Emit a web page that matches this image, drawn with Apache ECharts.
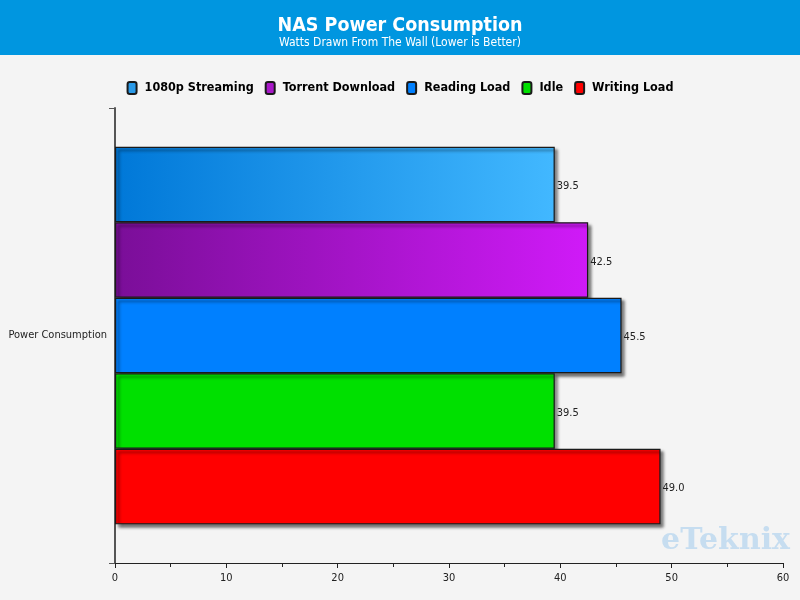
<!DOCTYPE html>
<html><head><meta charset="utf-8">
<script src="https://cdn.jsdelivr.net/npm/echarts@6/dist/echarts.min.js"></script>
<style>html,body{margin:0;padding:0;background:#f4f4f4}#c{width:800px;height:600px}</style>
</head><body><div id="c"></div>
<script>
const categories = ['Power Consumption'];
const seriesNames = ['1080p Streaming', 'Torrent Download', 'Reading Load', 'Idle', 'Writing Load'];
const values = [39.5, 42.5, 45.5, 39.5, 49.0];
const xTicks = { min: 0, max: 60, interval: 10 };

const fills = [
  new echarts.graphic.LinearGradient(0, 0, 1, 0, [{offset: 0, color: '#0078d8'}, {offset: 1, color: '#42b8ff'}]),
  new echarts.graphic.LinearGradient(0, 0, 1, 0, [{offset: 0, color: '#7a0e98'}, {offset: 1, color: '#d01af8'}]),
  '#0080ff', '#00e000', '#ff0000'
];
const legendColors = ['#2a9ae8', '#a818c8', '#0080ff', '#00e000', '#ff0000'];
const font = 'Tahoma, "DejaVu Sans Condensed", "DejaVu Sans", sans-serif';

const chart = echarts.init(document.getElementById('c'));
const series = seriesNames.map((n, i) => ({
  name: n,
  type: 'bar',
  data: [values[i]],
  barGap: '0%',
  barCategoryGap: '17%',
  itemStyle: {
    color: fills[i],
    borderColor: '#1a1a1a',
    borderWidth: 1.2,
    shadowColor: 'rgba(0,0,0,0.55)',
    shadowBlur: 3,
    shadowOffsetX: 3,
    shadowOffsetY: 3
  },
  label: {
    show: true, position: 'right', distance: 2, offset: [0, 2],
    formatter: p => p.value.toFixed(1),
    color: '#222', fontSize: 11, fontFamily: font
  }
}));

chart.setOption({
  backgroundColor: '#f4f4f4',
  animation: false,
  graphic: [
    { type: 'rect', left: 0, top: 0, z: -1, shape: { width: 800, height: 55 }, style: { fill: '#0096e0' } },
    { type: 'text', right: 10, top: 526, z: 0,
      style: { text: 'eTeknix', fill: '#c6ddf0', font: 'bold 30px "DejaVu Serif", serif' } }
  ],
  title: {
    text: 'NAS Power Consumption',
    subtext: 'Watts Drawn From The Wall (Lower is Better)',
    left: 'center', top: 11, itemGap: 1,
    textStyle: { color: '#fff', fontSize: 19.5, fontWeight: 'bold', fontFamily: font },
    subtextStyle: { color: '#fff', fontSize: 12, fontFamily: font }
  },
  legend: {
    data: seriesNames.map((n, i) => ({ name: n, itemStyle: { color: legendColors[i] } })),
    top: 76, left: 'center',
    icon: 'roundRect', itemWidth: 9, itemHeight: 12, itemGap: 11,
    textStyle: { color: '#000', fontSize: 12.5, fontWeight: 'bold', fontFamily: font, padding: [0, 0, 0, 3] }
  },
  grid: { left: 115, right: 17, top: 108, bottom: 37, containLabel: false, outerBoundsMode: 'none' },
  xAxis: {
    type: 'value', min: xTicks.min, max: xTicks.max, interval: xTicks.interval,
    axisLine: { show: true, lineStyle: { color: '#222', width: 1 } },
    axisTick: { show: true, length: 5, lineStyle: { color: '#222' } },
    minorTick: { show: true, splitNumber: 2, length: 4, lineStyle: { color: '#222' } },
    splitLine: { show: false },
    axisLabel: { color: '#222', fontSize: 11, fontFamily: font, margin: 10 }
  },
  yAxis: {
    type: 'category', data: categories, inverse: true,
    axisLine: { show: true, lineStyle: { color: '#555', width: 2 } },
    axisTick: { show: true, length: 6, lineStyle: { color: '#555' } },
    axisLabel: { color: '#222', fontSize: 11, fontFamily: font, margin: 8, padding: [6, 0, 0, 0] }
  },
  series: series
});
</script></body></html>
